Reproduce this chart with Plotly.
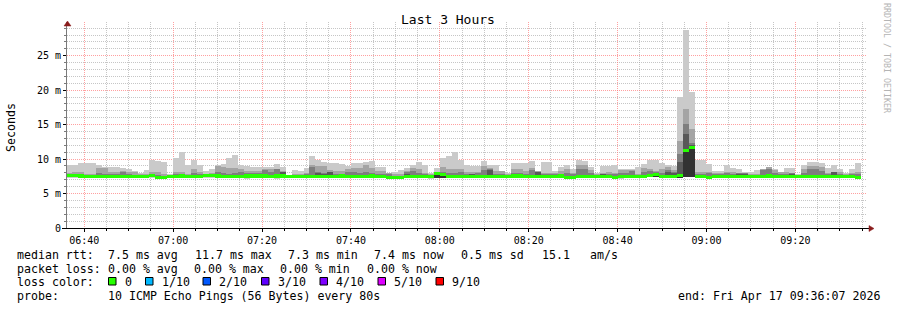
import numpy as np
import pandas as pd
import plotly.graph_objects as go

# ---------------- data (values in ms) ----------------
start_time = "2026-04-17 06:36:00"
step_seconds = 80

rtt_max = [
    9.1, 9.1, 9.5, 9.5, 9.4, 9.1, 8.8, 8.8, 8.9, 8.7,
    8.6, 8.3, 8.0, 8.4, 9.8, 9.7, 9.6, 7.8, 10.2, 11.0,
    9.1, 9.8, 9.1, 8.3, 8.6, 9.2, 9.3, 10.1, 10.6, 9.1,
    9.0, 8.8, 8.8, 8.9, 8.9, 9.3, 8.8, 7.7, 8.4, 8.3,
    8.7, 10.4, 9.8, 9.6, 9.5, 9.5, 9.3, 9.0, 9.4, 9.4,
    9.6, 9.7, 8.8, 8.8, 8.0, 8.2, 8.4, 8.7, 9.2, 9.6,
    9.1, 8.0, 8.7, 10.1, 10.4, 11.0, 9.8, 9.1, 9.0, 9.0,
    9.7, 9.2, 9.2, 8.3, 8.0, 9.4, 9.4, 9.4, 9.7, 8.3,
    9.6, 9.6, 8.3, 8.8, 9.2, 8.6, 9.8, 9.7, 8.8, 8.0,
    9.0, 9.0, 9.1, 8.6, 8.6, 8.6, 8.8, 9.3, 9.9, 9.9,
    9.4, 9.2, 9.0, 19.0, 28.8, 19.7, 9.8, 9.8, 9.3, 8.3,
    8.3, 9.1, 8.7, 8.5, 8.1, 8.2, 8.4, 8.5, 8.9, 8.5,
    8.2, 8.7, 8.7, 7.8, 9.1, 9.6, 9.65, 9.4, 8.75, 9.2,
    8.6, 8.0, 8.5, 9.4,
]

rtt_p9 = [
    8.0, 8.1, 8.1, 7.8, 7.8, 8.7, 8.7, 8.1, 8.1, 8.3,
    8.1, 8.1, 7.8, 7.8, 8.1, 8.1, 7.9, 7.7, 8.2, 8.2,
    7.9, 8.6, 8.2, 7.9, 8.0, 9.0, 8.9, 8.7, 8.7, 8.6,
    8.3, 8.3, 8.3, 8.5, 8.5, 8.6, 8.3, 7.7, 7.9, 7.9,
    8.0, 9.1, 9.0, 9.0, 8.4, 8.3, 8.3, 8.6, 8.7, 8.7,
    9.2, 8.7, 8.3, 8.3, 8.0, 7.8, 7.8, 8.3, 8.7, 8.5,
    8.0, 7.8, 8.0, 8.8, 8.6, 8.5, 8.6, 8.1, 8.1, 8.1,
    9.0, 8.7, 8.3, 8.3, 7.8, 8.5, 8.5, 8.3, 8.7, 8.3,
    8.0, 8.0, 8.0, 8.3, 8.5, 8.0, 9.1, 9.1, 8.4, 7.8,
    8.0, 8.1, 8.0, 8.4, 8.4, 8.4, 7.9, 8.7, 8.5, 8.3,
    8.5, 8.9, 8.4, 12.6, 17.3, 14.3, 8.2, 8.2, 8.2, 8.0,
    8.0, 8.2, 8.1, 8.0, 8.0, 7.9, 7.9, 8.5, 8.9, 8.4,
    8.1, 8.1, 8.0, 7.7, 8.5, 9.0, 9.0, 8.9, 8.0, 8.2,
    8.2, 7.8, 8.0, 8.2,
]

rtt_p8 = [
    7.9, 7.7, 7.7, 7.6, 7.6, 8.0, 7.9, 7.8, 7.9, 8.2,
    7.9, 7.7, 7.6, 7.6, 7.7, 7.7, 7.6, 7.6, 7.9, 7.8,
    7.6, 8.0, 7.8, 7.6, 7.7, 8.2, 8.0, 7.9, 8.0, 8.1,
    8.0, 8.0, 8.0, 8.4, 8.2, 8.5, 8.2, 7.6, 7.7, 7.7,
    7.8, 8.9, 8.2, 8.0, 8.2, 7.9, 7.9, 8.2, 8.1, 8.0,
    8.2, 8.0, 7.9, 7.9, 7.9, 7.6, 7.6, 8.2, 8.3, 8.0,
    7.8, 7.6, 7.9, 8.2, 8.0, 8.0, 8.1, 7.8, 7.8, 8.0,
    8.4, 8.6, 7.9, 7.9, 7.6, 8.0, 8.0, 7.9, 8.4, 8.2,
    7.8, 7.8, 7.8, 7.9, 8.0, 7.9, 8.5, 8.5, 8.0, 7.6,
    7.9, 7.8, 7.9, 8.0, 8.0, 8.3, 7.7, 8.2, 8.3, 8.1,
    8.0, 8.4, 8.2, 10.7, 15.1, 12.4, 7.8, 7.8, 8.0, 7.8,
    7.8, 8.0, 7.8, 8.0, 8.0, 7.7, 7.7, 8.4, 8.5, 8.0,
    7.8, 7.9, 8.0, 7.6, 8.0, 8.5, 8.5, 8.3, 7.8, 8.2,
    7.9, 7.6, 7.8, 7.8,
]

rtt_median = [
    7.6, 7.6, 7.55, 7.5, 7.5, 7.5, 7.45, 7.45, 7.45, 7.5,
    7.45, 7.45, 7.45, 7.45, 7.6, 7.4, 7.4, 7.45, 7.5, 7.55,
    7.5, 7.5, 7.5, 7.6, 7.6, 7.55, 7.45, 7.45, 7.5, 7.5,
    7.55, 7.55, 7.55, 7.55, 7.5, 7.55, 7.55, 7.45, 7.45, 7.45,
    7.5, 7.5, 7.45, 7.45, 7.5, 7.45, 7.55, 7.5, 7.45, 7.45,
    7.5, 7.55, 7.45, 7.45, 7.4, 7.3, 7.4, 7.5, 7.5, 7.45,
    7.45, 7.45, 7.85, 7.8, 7.5, 7.5, 7.45, 7.5, 7.5, 7.45,
    7.45, 7.5, 7.45, 7.45, 7.5, 7.55, 7.55, 7.5, 7.45, 7.5,
    7.5, 7.45, 7.5, 7.55, 7.4, 7.4, 7.45, 7.5, 7.5, 7.45,
    7.45, 7.45, 7.4, 7.45, 7.5, 7.5, 7.45, 7.45, 7.65, 7.7,
    7.5, 7.45, 7.45, 7.6, 11.3, 11.7, 7.45, 7.45, 7.4, 7.45,
    7.45, 7.5, 7.5, 7.45, 7.5, 7.5, 7.5, 7.5, 7.55, 7.5,
    7.5, 7.45, 7.5, 7.45, 7.45, 7.5, 7.5, 7.45, 7.5, 7.45,
    7.45, 7.45, 7.45, 7.4,
]

rtt_min = [
    7.3, 7.3, 7.25, 7.2, 7.25, 7.25, 7.2, 7.2, 7.25, 7.25,
    7.2, 7.2, 7.25, 7.25, 7.3, 7.2, 7.2, 7.25, 7.25, 7.3,
    7.25, 7.2, 7.25, 7.3, 7.3, 7.25, 7.2, 7.2, 7.2, 7.2,
    7.15, 7.25, 7.25, 7.2, 7.25, 7.15, 7.25, 7.25, 7.2, 7.25,
    7.25, 7.2, 7.2, 7.2, 7.25, 7.2, 7.3, 7.25, 7.2, 7.25,
    7.25, 7.25, 7.2, 7.2, 7.2, 7.1, 7.15, 7.25, 7.25, 7.2,
    7.2, 7.15, 7.3, 7.3, 7.25, 7.25, 7.2, 7.25, 7.25, 7.2,
    7.2, 7.25, 7.2, 7.2, 7.25, 7.3, 7.3, 7.25, 7.2, 7.25,
    7.25, 7.2, 7.25, 7.3, 7.15, 7.15, 7.2, 7.25, 7.25, 7.2,
    7.2, 7.2, 7.15, 7.1, 7.2, 7.25, 7.2, 7.2, 7.35, 7.35,
    7.25, 7.2, 7.25, 7.35, 7.35, 7.35, 7.2, 7.2, 7.15, 7.2,
    7.2, 7.25, 7.25, 7.2, 7.25, 7.25, 7.25, 7.25, 7.3, 7.25,
    7.25, 7.2, 7.2, 7.2, 7.2, 7.25, 7.25, 7.2, 7.25, 7.2,
    7.2, 7.2, 7.2, 7.25,
]

# darker smoke (ping 4..7) only where it shows
p7_times = ["07:24:00", "07:32:00", "07:33:20", "07:34:40", "07:52:00", "08:06:40",
            "08:10:40", "08:21:20", "08:36:00", "08:50:40", "08:52:00", "08:53:20",
            "08:54:40", "08:56:00", "09:06:40", "09:08:00", "09:18:40", "09:28:00"]
p7_low = [7.5, 7.5, 7.5, 7.5, 7.4, 7.45, 7.5, 7.5, 7.45, 7.45, 7.45, 7.6,
          7.4, 7.4, 7.4, 7.45, 7.4, 7.4]
p7_high = [8.1, 8.0, 7.9, 8.1, 7.9, 7.9, 8.4, 8.1, 7.9, 8.1, 8.0, 9.6,
           13.6, 12.1, 7.9, 7.9, 7.9, 8.1]

# darkest smoke (ping 5..6)
p6_times = ["07:58:40", "08:00:00", "08:46:40", "08:48:00", "08:53:20", "08:54:40", "08:56:00"]
p6_low = [7.3, 7.3, 7.35, 7.35, 7.35, 7.4, 7.4]
p6_high = [7.85, 7.8, 7.65, 7.7, 7.6, 11.5, 11.8]

y_tick_vals = [0, 5, 10, 15, 20, 25]
y_tick_text = ["0", "5 m", "10 m", "15 m", "20 m", "25 m"]

loss_labels = ["0", "1/10", "2/10", "3/10", "4/10", "5/10", "9/10"]
loss_colors = ["#26ff00", "#00b8ff", "#0059ff", "#5e00ff", "#7e00ff", "#dd00ff", "#ff0000"]

stats_rtt = ["7.5 ms avg", "11.7 ms max", "7.3 ms min", "7.4 ms now", "0.5 ms sd", "15.1", "am/s"]
stats_loss = ["0.00 % avg", "0.00 % max", "0.00 % min", "0.00 % now"]

# ---------------- figure ----------------
FONT = "DejaVu Sans Mono"
W, H = 897, 310
L, R, T, B = 67, 30, 22, 82
PW, PH = W - L - R, H - T - B

day = "2026-04-17 "
times = pd.date_range(start_time, periods=len(rtt_max), freq=f"{step_seconds}s")
bw = step_seconds * 1000

mx = np.array(rtt_max); mn = np.array(rtt_min); md = np.array(rtt_median)
p9 = np.array(rtt_p9); p8 = np.array(rtt_p8)

fig = go.Figure()

def band(x, lo, hi, color):
    lo = np.asarray(lo, float); hi = np.asarray(hi, float)
    fig.add_trace(go.Bar(x=x, base=lo, y=hi - lo, width=bw, offset=0,
                         marker=dict(color=color, line=dict(width=0)),
                         hoverinfo="skip", showlegend=False))

band(times, mn, mx, "#cacaca")
band(times, md, p9, "#a4a4a4")
band(times, md, p8, "#7e7e7e")
t7 = pd.to_datetime([day + t for t in p7_times])
band(t7, p7_low, p7_high, "#585858")
t6 = pd.to_datetime([day + t for t in p6_times])
band(t6, p6_low, p6_high, "#323232")
# median band (about 3 px tall)
half = 0.22
band(times, md - half, md + half, loss_colors[0])

MINC = "rgba(160,160,160,0.6)"
MAJC = "rgba(255,120,120,0.7)"
DASH = "1px,1px"

fig.update_layout(
    width=W, height=H, autosize=False,
    margin=dict(l=L, r=R, t=T, b=B, pad=0),
    paper_bgcolor="white", plot_bgcolor="white",
    barmode="overlay", bargap=0,
    showlegend=False,
    font=dict(family=FONT, size=10, color="black"),
    xaxis=dict(
        type="date",
        range=[day + "06:36:07", day + "09:36:07"],
        tick0=day + "06:40:00", dtick=20 * 60 * 1000,
        tickformat="%H:%M",
        showgrid=True, gridcolor=MAJC, griddash=DASH, gridwidth=1,
        ticks="outside", ticklen=3, tickcolor="black",
        tickfont=dict(family=FONT, size=10, color="black"),
        showline=True, linecolor="black", linewidth=1,
        zeroline=False,
        minor=dict(dtick=5 * 60 * 1000, tick0=day + "06:40:00", showgrid=True,
                   gridcolor=MINC, griddash=DASH, gridwidth=1,
                   ticks="outside", ticklen=2, tickcolor="black"),
    ),
    yaxis=dict(
        range=[0, 29.9],
        tickmode="array", tickvals=y_tick_vals, ticktext=y_tick_text,
        showgrid=True, gridcolor=MAJC, griddash=DASH, gridwidth=1,
        ticks="outside", ticklen=3, tickcolor="black",
        tickfont=dict(family=FONT, size=10, color="black"),
        showline=True, linecolor="#7a7a7a", linewidth=1,
        zeroline=False,
        minor=dict(tickmode="array", tickvals=[v for v in range(1, 30) if v % 5],
                   showgrid=True, gridcolor=MINC, griddash=DASH, gridwidth=1,
                   ticks="outside", ticklen=2, tickcolor="#7a7a7a"),
    ),
)

def px(xp):
    return (xp - L) / PW

def py(yp):
    return (H - B - yp) / PH

ann = []
def text(s, xp, yp, size=11.6, anchor="left", color="black", angle=0):
    ann.append(dict(text=s, x=px(xp), y=py(yp), xref="paper", yref="paper",
                    xanchor=anchor, yanchor="middle", showarrow=False,
                    textangle=angle, borderpad=0,
                    font=dict(family=FONT, size=size, color=color)))

# title, axis title, watermark
text("Last 3 Hours", 448, 19, size=13, anchor="center")
text("Seconds", 11, 127, size=11.6, anchor="center", angle=-90)
text("RRDTOOL / TOBI OETIKER", 887, 58, size=8.3, anchor="center", color="#b4b4b4", angle=90)

# legend rows
r1, r2, r3, r4 = 254.5, 268.5, 282, 296
text("median rtt:", 16, r1)
for s, xp in zip(stats_rtt, [107.3, 194.3, 287.3, 372.6, 460, 540.5, 589.4]):
    text(s, xp, r1)
text("packet loss:", 16, r2)
for s, xp in zip(stats_loss, [107.3, 193.3, 279.3, 366.3]):
    text(s, xp, r2)
text("loss color:", 16, r3)
shapes = []
box_x = [108.5, 145.5, 203, 261.5, 320, 378, 436]
for lab, col, bx in zip(loss_labels, loss_colors, box_x):
    shapes.append(dict(type="rect", xref="paper", yref="paper",
                       x0=px(bx), x1=px(bx + 7.5), y0=py(285), y1=py(277.5),
                       fillcolor=col, line=dict(color="black", width=1)))
    text(lab, bx + 15.3, r3)
text("probe:", 16, r4)
text("10 ICMP Echo Pings (56 Bytes) every 80s", 107.3, r4)
text("end: Fri Apr 17 09:36:07 2026", 881, r4, anchor="right")

# axis extensions and arrows
AR = "#8a1c1c"
shapes.append(dict(type="line", xref="paper", yref="paper",
                   x0=px(62), x1=px(L), y0=py(228.5), y1=py(228.5),
                   line=dict(color="black", width=1)))
shapes.append(dict(type="line", xref="paper", yref="paper",
                   x0=px(867), x1=px(870), y0=py(228.5), y1=py(228.5),
                   line=dict(color="black", width=1)))
shapes.append(dict(type="path", xref="paper", yref="paper",
                   path=f"M {px(869)} {py(225.5)} L {px(874)} {py(228.5)} L {px(869)} {py(231.5)} Z",
                   fillcolor=AR, line=dict(color=AR, width=0.5)))
shapes.append(dict(type="path", xref="paper", yref="paper",
                   path=f"M {px(64)} {py(26)} L {px(67.5)} {py(21)} L {px(71)} {py(26)} Z",
                   fillcolor=AR, line=dict(color=AR, width=0.5)))

fig.update_layout(annotations=ann, shapes=shapes)

fig.write_html("out.html")
